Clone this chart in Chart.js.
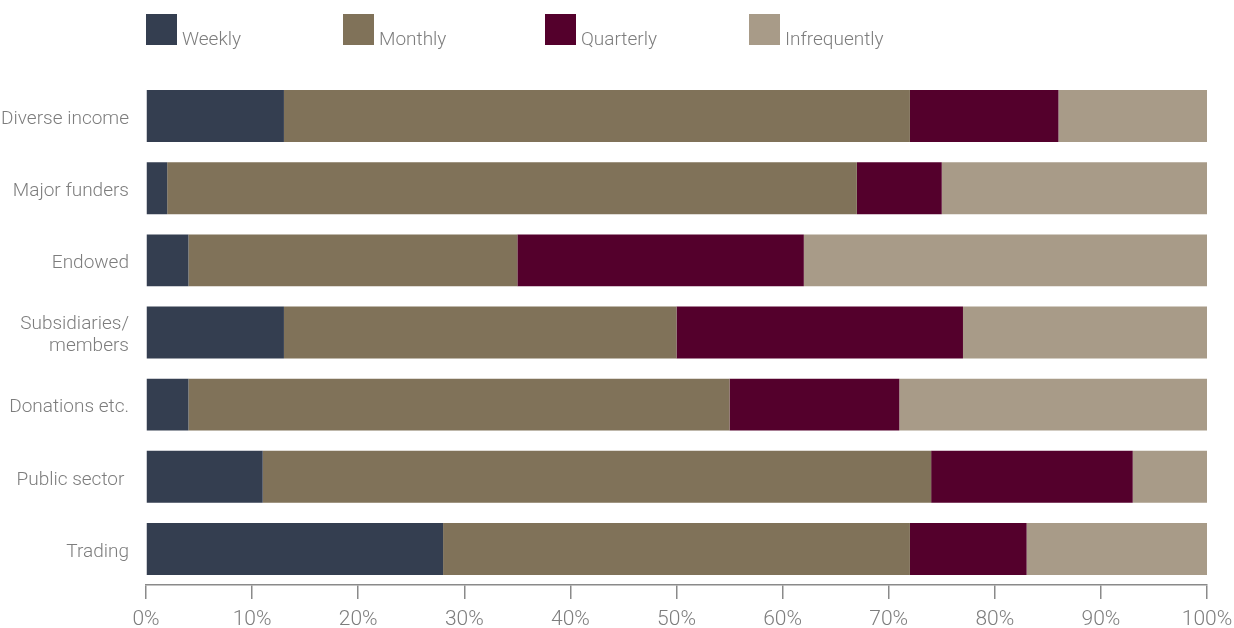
<!DOCTYPE html>
<html>
<head>
<meta charset="utf-8">
<script src="https://cdn.jsdelivr.net/npm/chart.js@4.4.1/dist/chart.umd.min.js"></script>
<style>
  html, body { margin: 0; padding: 0; background: #ffffff; }
  #wrap { width: 1234px; height: 628px; position: relative; }
</style>
</head>
<body>
<div id="wrap"><canvas id="chart" width="1234" height="628"></canvas></div>
<script>
// Income source groups (top to bottom)
const categories = [
  'Diverse income',
  'Major funders',
  'Endowed',
  ['Subsidiaries/', 'members'],
  'Donations etc.',
  'Public sector ',
  'Trading'
];

// Share of organisations reviewing at each frequency (%)
const weekly       = [13,  2,  4, 13,  4, 11, 28];
const monthly      = [59, 65, 31, 37, 51, 63, 44];
const quarterly    = [14,  8, 27, 27, 16, 19, 11];
const infrequently = [14, 25, 38, 23, 29,  7, 17];

const seriesNames = ['Weekly', 'Monthly', 'Quarterly', 'Infrequently'];
const xTicks = [0, 10, 20, 30, 40, 50, 60, 70, 80, 90, 100];

const colors = ['#343e50', '#807259', '#54002c', '#a89b88'];
const FONT = "'Roboto', 'Liberation Sans', sans-serif";
const TEXT = '#7d7d7d';

// Legend drawn across the top with its own spacing
const topLegend = {
  id: 'topLegend',
  afterDraw(chart) {
    const ctx = chart.ctx;
    const starts = [146, 343, 545, 749];
    ctx.save();
    ctx.font = '300 19px ' + FONT;
    ctx.textBaseline = 'alphabetic';
    ctx.textAlign = 'left';
    chart.data.datasets.forEach((ds, i) => {
      const x = starts[i];
      ctx.fillStyle = ds.backgroundColor;
      ctx.fillRect(x, 14, 31, 31);
      ctx.fillStyle = TEXT;
      ctx.fillText(ds.label, x + 36, 45);
    });
    ctx.restore();
  }
};

const datasets = [weekly, monthly, quarterly, infrequently].map((vals, i) => ({
  label: seriesNames[i],
  data: vals,
  backgroundColor: colors[i],
  borderWidth: 0,
  barPercentage: 0.72,
  categoryPercentage: 1.0
}));

new Chart(document.getElementById('chart'), {
  type: 'bar',
  data: { labels: categories, datasets },
  options: {
    indexAxis: 'y',
    responsive: false,
    animation: false,
    layout: { autoPadding: false, padding: { top: 80, right: 27, left: 0, bottom: 0 } },
    plugins: {
      legend: { display: false },
      tooltip: { enabled: false }
    },
    scales: {
      x: {
        stacked: true,
        min: 0,
        max: 100,
        afterBuildTicks(scale) {
          scale.ticks = xTicks.map(v => ({ value: v }));
        },
        afterFit(scale) {
          scale.height = 43;
          // the end labels may hang past the plot edges
          scale.paddingLeft = 0;
          scale.paddingRight = 0;
        },
        border: { display: true, color: '#8a8a8a', width: 1.5 },
        grid: {
          drawOnChartArea: false,
          drawTicks: true,
          tickLength: 14,
          color: '#8a8a8a',
          lineWidth: 1.5
        },
        ticks: {
          padding: 8,
          color: TEXT,
          font: { family: FONT, size: 21, weight: '300' },
          maxRotation: 0,
          callback: v => v + '%'
        }
      },
      y: {
        stacked: true,
        afterFit(scale) {
          scale.width = 146;
          scale.paddingTop = 0;
          scale.paddingBottom = 0;
        },
        border: { display: false },
        grid: { display: false, drawTicks: false },
        ticks: {
          padding: 17,
          labelOffset: 3,
          color: TEXT,
          font: { family: FONT, size: 19, weight: '300', lineHeight: 1.15 }
        }
      }
    }
  },
  plugins: [topLegend]
});
</script>
</body>
</html>
